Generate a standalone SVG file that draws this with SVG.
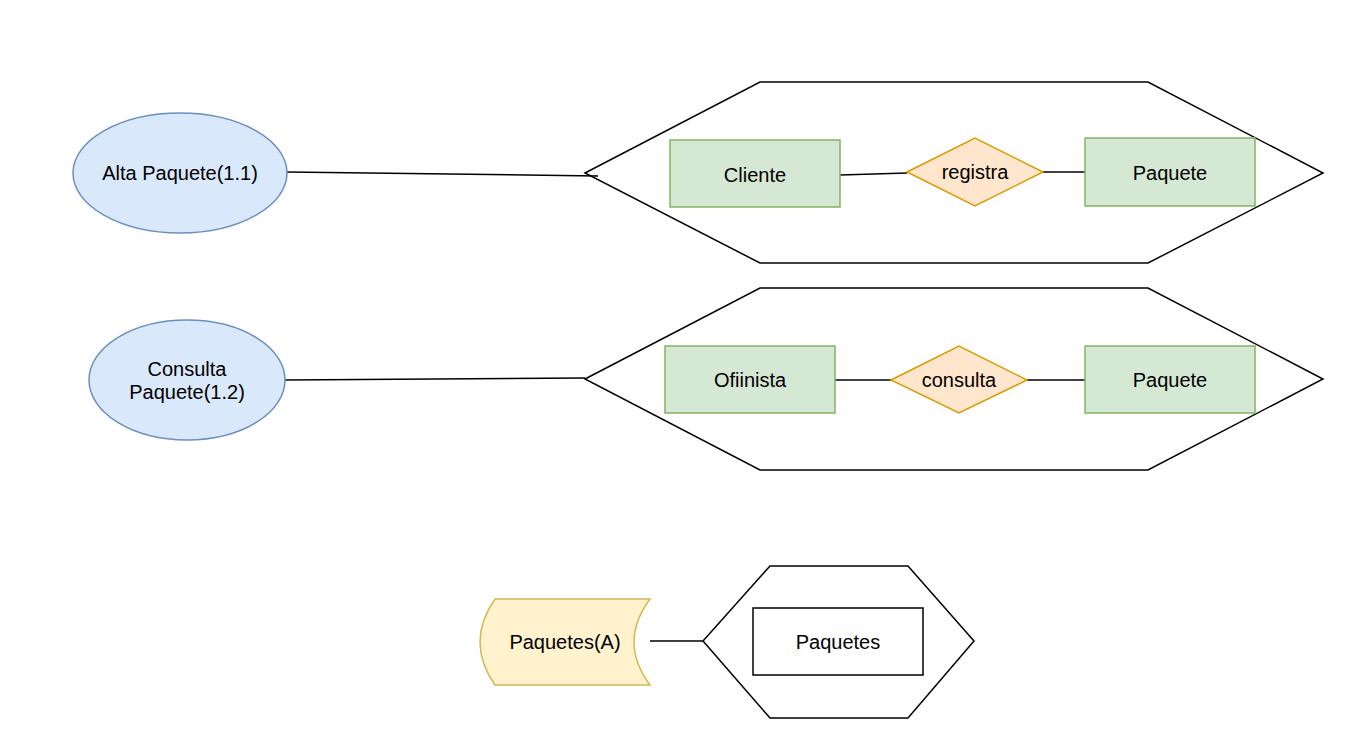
<svg xmlns="http://www.w3.org/2000/svg" width="1364" height="744" viewBox="0 0 1364 744">
<style>
text{font-family:"Liberation Sans",Arial,sans-serif;font-size:20px;fill:#000;text-anchor:middle;dominant-baseline:central}
.proc{fill:#dae8fc;stroke:#6c8ebf;stroke-width:1.5}
.ent{fill:#d5e8d4;stroke:#82b366;stroke-width:1.5}
.rel{fill:#ffe6cc;stroke:#d79b00;stroke-width:1.5}
.store{fill:#fff2cc;stroke:#d6b656;stroke-width:1.5}
.hex{fill:#fff;stroke:#000;stroke-width:1.5}
.box{fill:#fff;stroke:#000;stroke-width:1.5}
.conn{stroke:#000;stroke-width:1.5;fill:none}
</style>
<rect width="1364" height="744" fill="#fff"/>
<g id="hex1"><polygon class="hex" points="585,173 760,82 1148,82 1323,173 1148,263 760,263"/></g>
<g id="hex2"><polygon class="hex" points="585,379 760,288 1148,288 1323,379 1148,470 760,470"/></g>
<g id="hex3"><polygon class="hex" points="703,641 770,566 908,566 974,641 908,718 770,718"/></g>
<g id="connectors">
<line class="conn" x1="287" y1="172" x2="598" y2="176"/>
<line class="conn" x1="840" y1="175" x2="907" y2="173"/>
<line class="conn" x1="1043" y1="172" x2="1085" y2="172"/>
<line class="conn" x1="285" y1="380" x2="585" y2="378"/>
<line class="conn" x1="835" y1="380" x2="891" y2="380"/>
<line class="conn" x1="1027" y1="380" x2="1085" y2="380"/>
<line class="conn" x1="650" y1="641" x2="703" y2="641"/>
</g>
<g id="alta"><ellipse class="proc" cx="180" cy="173" rx="107" ry="60"/><text x="180" y="173">Alta Paquete(1.1)</text></g>
<g id="consultaProc"><ellipse class="proc" cx="187" cy="380" rx="98" ry="60"/><text x="187" y="369">Consulta</text><text x="187" y="392">Paquete(1.2)</text></g>
<g id="cliente"><rect class="ent" x="670" y="140" width="170" height="67"/><text x="755" y="175">Cliente</text></g>
<g id="registra"><polygon class="rel" points="907,172 975,138 1043,172 975,206"/><text x="975" y="172">registra</text></g>
<g id="paquete1"><rect class="ent" x="1085" y="138" width="170" height="68"/><text x="1170" y="173">Paquete</text></g>
<g id="ofiinista"><rect class="ent" x="665" y="346" width="170" height="67"/><text x="750" y="380">Ofiinista</text></g>
<g id="consulta"><polygon class="rel" points="891,380 959,346 1027,380 959,413"/><text x="959" y="380">consulta</text></g>
<g id="paquete2"><rect class="ent" x="1085" y="346" width="170" height="67"/><text x="1170" y="380">Paquete</text></g>
<g id="paquetesA"><path class="store" d="M495,599 L650,599 Q618,642 650,685 L495,685 Q465,642 495,599 Z"/><text x="565" y="642">Paquetes(A)</text></g>
<g id="paquetes"><rect class="box" x="753" y="608" width="170" height="67"/><text x="838" y="642">Paquetes</text></g>
</svg>
